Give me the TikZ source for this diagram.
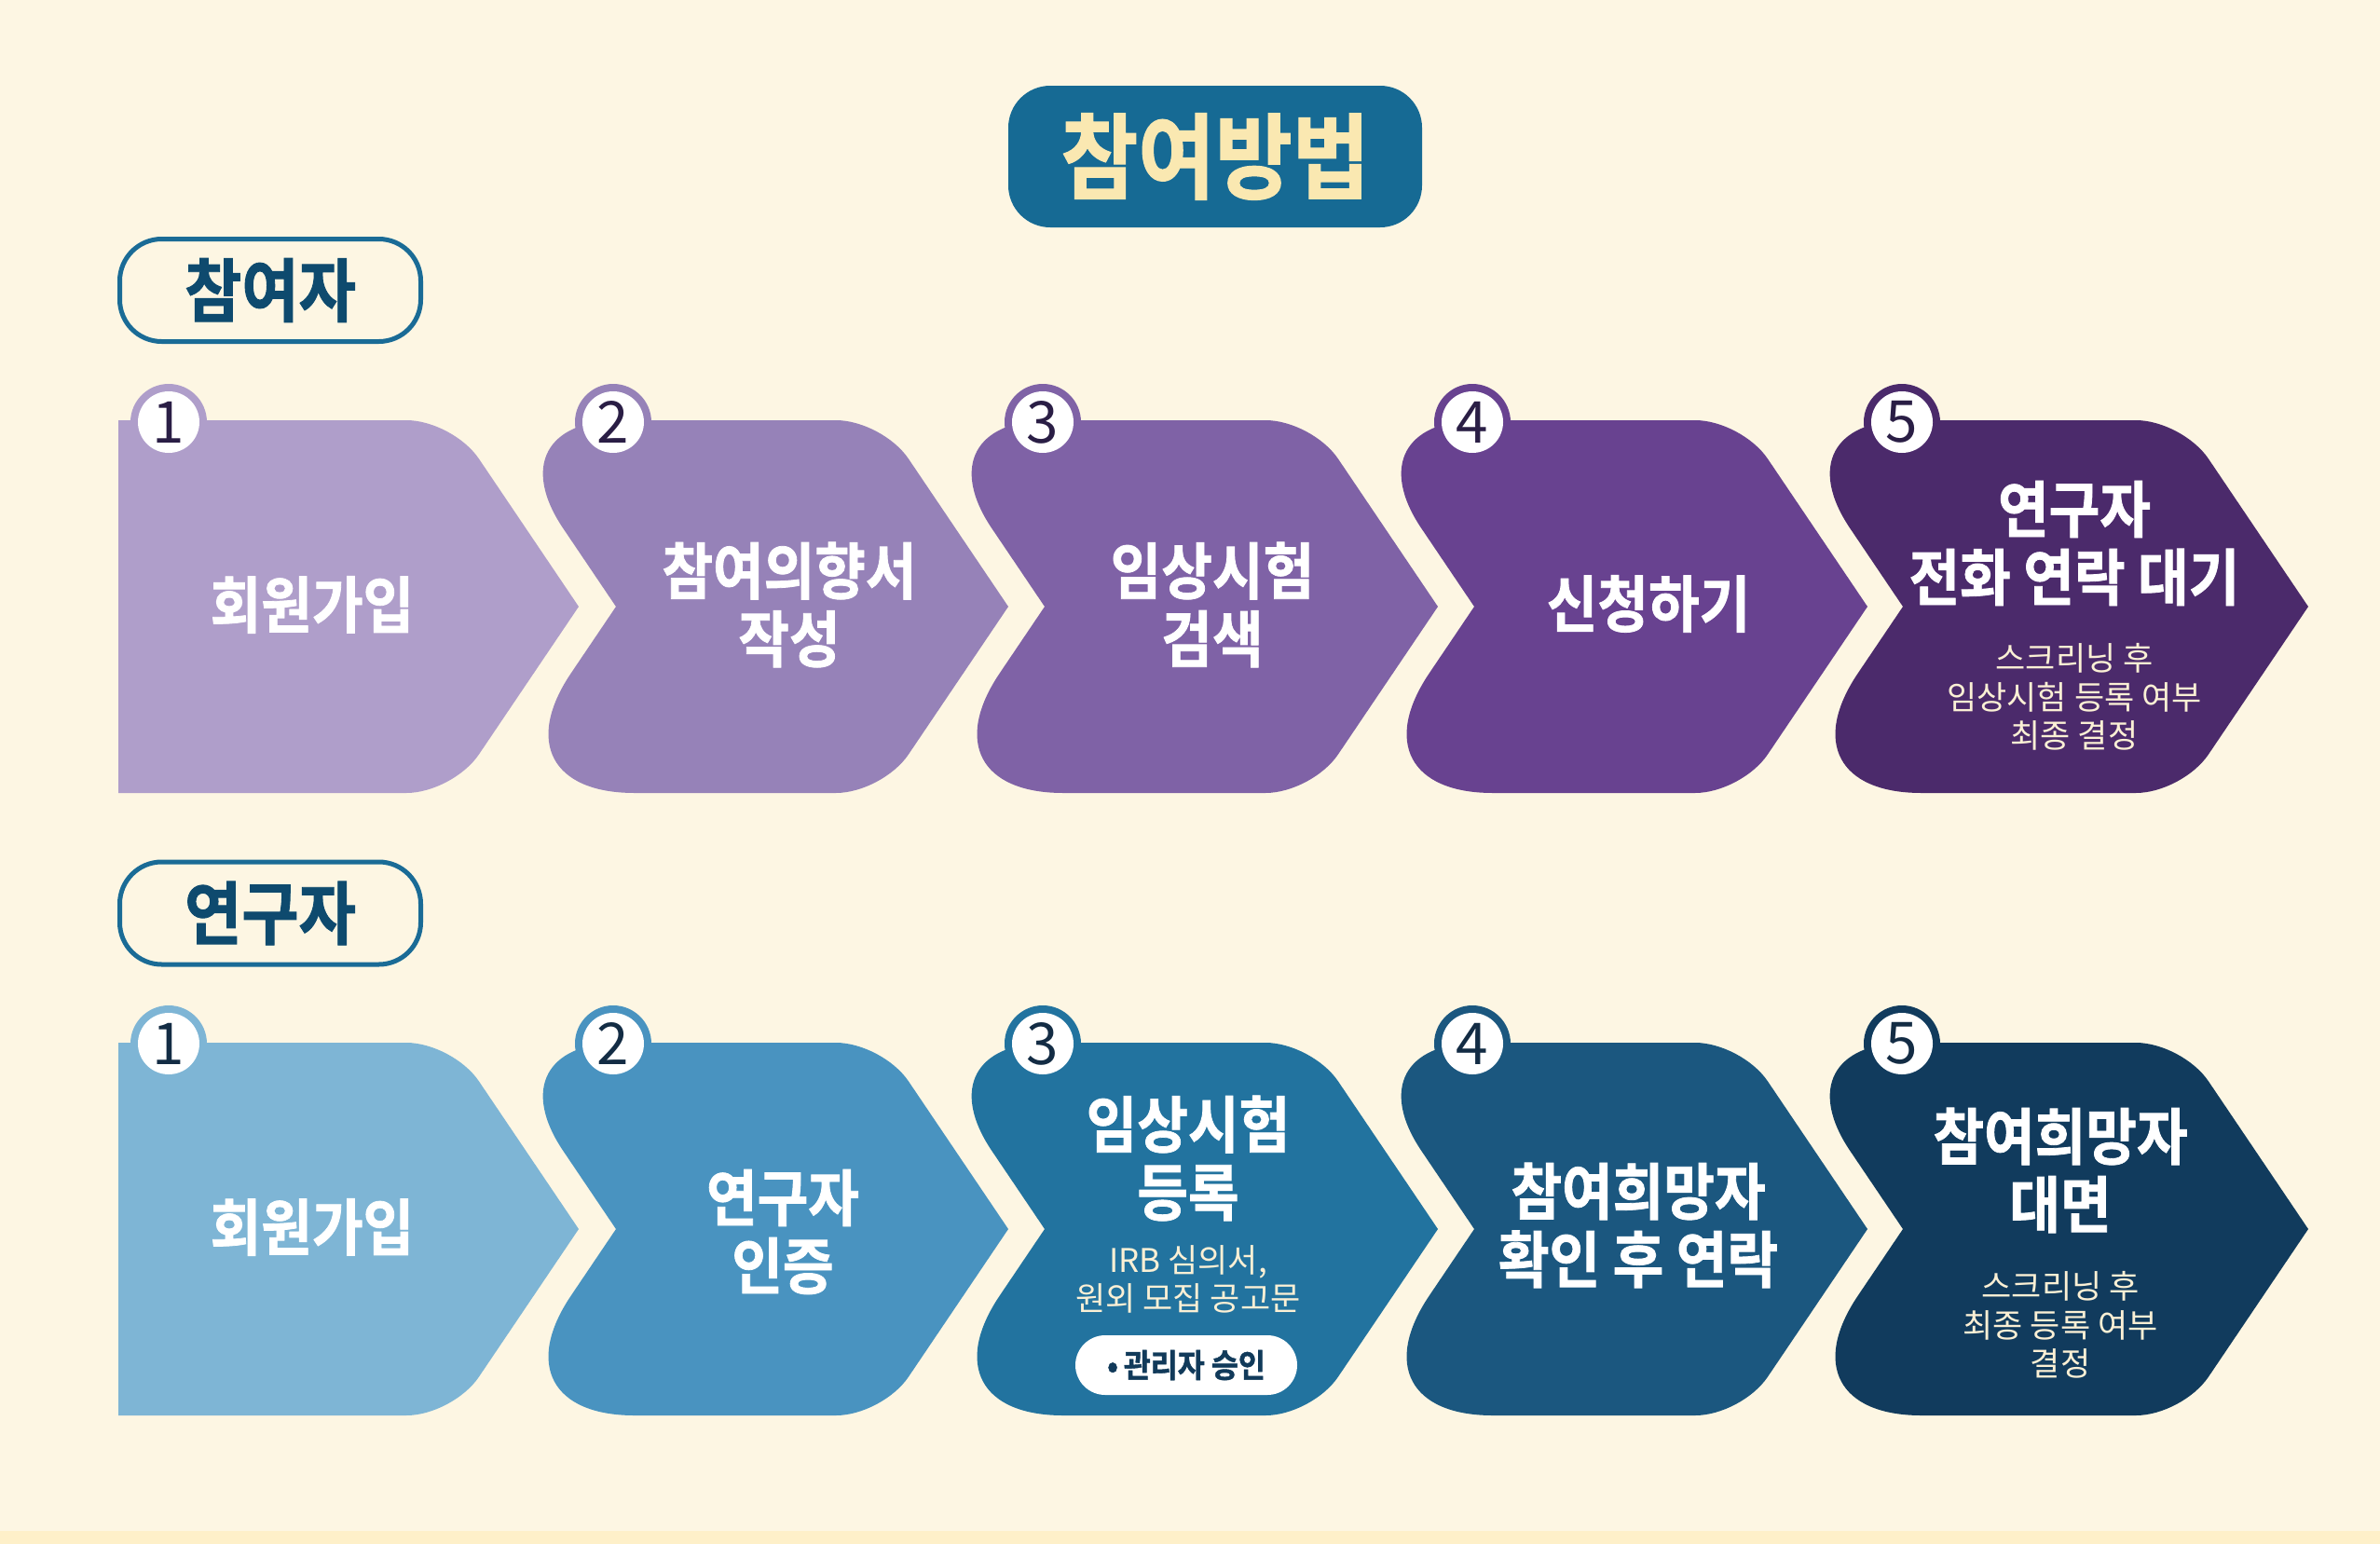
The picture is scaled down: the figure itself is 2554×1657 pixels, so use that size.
\documentclass[tikz,border=0pt]{standalone}
\usepackage{fontspec}
\setmainfont{Noto Sans CJK KR}
\newfontfamily\krh{Noto Sans CJK KR}[UprightFont=* Bold, FakeStretch=0.9, FakeBold=1.2]
\newfontfamily\krn{Noto Sans CJK KR}
\usetikzlibrary{calc}

\definecolor{bg}{HTML}{FDF6E3}
\definecolor{strip}{HTML}{FEF0C9}
\definecolor{titlebox}{HTML}{166A94}
\definecolor{titletext}{HTML}{FAE8B1}
\definecolor{labelline}{HTML}{1A6B96}
\definecolor{labeltext}{HTML}{0E4A6E}
\definecolor{pA}{HTML}{AF9ECA}
\definecolor{pB}{HTML}{9682B8}
\definecolor{pC}{HTML}{7F62A6}
\definecolor{pD}{HTML}{684290}
\definecolor{pE}{HTML}{4B2A6B}
\definecolor{bA}{HTML}{7EB5D5}
\definecolor{bB}{HTML}{4993C0}
\definecolor{bC}{HTML}{22739F}
\definecolor{bD}{HTML}{1B577F}
\definecolor{bE}{HTML}{113B5D}
\definecolor{numP}{HTML}{2A1E45}
\definecolor{numB}{HTML}{132C44}
\definecolor{smalltext}{HTML}{FBF0D5}
\definecolor{pilltext}{HTML}{113A5A}

\newcommand{\headfont}{\krh\fontsize{66}{73}\selectfont}
\newcommand{\subfont}{\krn\fontsize{35}{41.5}\selectfont}

% flat-left chevron: name, colour, left x, tip x, top y
\newcommand{\flatchev}[5]{%
 \coordinate (#1-tl) at (#3,#5);
 \coordinate (#1-tr) at ({#4-135},#5);
 \coordinate (#1-tip) at (#4,{#5+200});
 \coordinate (#1-br) at ({#4-135},{#5+400});
 \coordinate (#1-bl) at (#3,{#5+400});
 \fill[#2] (#1-tl)
  -- ($(#1-tr)!50pt!(#1-tl)$) .. controls ($(#1-tr)!22pt!(#1-tl)$) and ($(#1-tr)!22pt!(#1-tip)$) .. ($(#1-tr)!50pt!(#1-tip)$)
  -- (#1-tip)
  -- ($(#1-br)!50pt!(#1-tip)$) .. controls ($(#1-br)!22pt!(#1-tip)$) and ($(#1-br)!22pt!(#1-bl)$) .. ($(#1-br)!50pt!(#1-bl)$)
  -- (#1-bl) -- cycle;
}
% notched chevron: name, colour, notch x, tip x, top y
\newcommand{\notchchev}[5]{%
 \coordinate (#1-n) at (#3,{#5+200});
 \coordinate (#1-tl) at ({#3-135},#5);
 \coordinate (#1-tr) at ({#4-135},#5);
 \coordinate (#1-tip) at (#4,{#5+200});
 \coordinate (#1-br) at ({#4-135},{#5+400});
 \coordinate (#1-bl) at ({#3-135},{#5+400});
 \fill[#2] (#1-n)
  -- ($(#1-tl)!140pt!(#1-n)$) .. controls ($(#1-tl)!60pt!(#1-n)$) and ($(#1-tl)!60pt!(#1-tr)$) .. ($(#1-tl)!140pt!(#1-tr)$)
  -- ($(#1-tr)!50pt!(#1-tl)$) .. controls ($(#1-tr)!22pt!(#1-tl)$) and ($(#1-tr)!22pt!(#1-tip)$) .. ($(#1-tr)!50pt!(#1-tip)$)
  -- (#1-tip)
  -- ($(#1-br)!50pt!(#1-tip)$) .. controls ($(#1-br)!22pt!(#1-tip)$) and ($(#1-br)!22pt!(#1-bl)$) .. ($(#1-br)!50pt!(#1-bl)$)
  -- ($(#1-bl)!155pt!(#1-br)$) .. controls ($(#1-bl)!66pt!(#1-br)$) and ($(#1-bl)!66pt!(#1-n)$) .. ($(#1-bl)!155pt!(#1-n)$)
  -- cycle;
}
% badge: name, ring colour, digit colour, x, y, digit
\newcommand{\badge}[6]{%
 \fill[#2] (#4,#5) circle (41pt);
 \node[badgecircle, text=#3] (#1) at (#4,#5) {#6};
}

\tikzset{
 badgecircle/.style={circle, fill=white, minimum size=66pt, inner sep=0pt, font=\krn\fontsize{62}{62}\selectfont},
 head/.style={text=white, font=\headfont, align=center, inner sep=0pt},
 sub/.style={text=smalltext, font=\subfont, align=center, inner sep=0pt},
 labelbox/.style={draw=labelline, line width=5pt, rounded corners=45pt, fill=bg, text=labeltext,
   minimum width=323pt, minimum height=110pt, inner sep=0pt, font=\krh\fontsize{74}{74}\selectfont},
}

\begin{document}
\begin{tikzpicture}[x=1pt,y=-1pt]
\fill[bg] (0,0) rectangle (2554,1657);
\fill[strip] (0,1643) rectangle (2554,1657);
\useasboundingbox (0,0) rectangle (2554,1657);

% title
\node[fill=titlebox, rounded corners=45pt, minimum width=444pt, minimum height=152pt, inner sep=0pt,
  text=titletext, font=\krh\fontsize{100}{100}\selectfont] (title) at (1304,168) {참여방법};

% section labels
\node[labelbox] (lab1) at (290,311.5) {참여자};
\node[labelbox] (lab2) at (290,980) {연구자};

% row 1
\flatchev{p1}{pA}{127}{621}{451}
\notchchev{p2}{pB}{661}{1082}{451}
\notchchev{p3}{pC}{1121}{1543}{451}
\notchchev{p4}{pD}{1582}{2004}{451}
\notchchev{p5}{pE}{2042}{2477}{451}
\badge{pb1}{pA}{numP}{181}{453}{1}
\badge{pb2}{pB}{numP}{658}{453}{2}
\badge{pb3}{pC}{numP}{1119}{453}{3}
\badge{pb4}{pD}{numP}{1580}{453}{4}
\badge{pb5}{pE}{numP}{2041}{453}{5}
\node[head] (pt1) at (335,649) {회원가입};
\node[head] (pt2) at (847,649) {참여의향서\\작성};
\node[head] (pt3) at (1301,649) {임상시험\\검색};
\node[head] (pt4) at (1769,648) {신청하기};
\node[head] (pt5) at (2226,583) {연구자\\전화 연락 대기};
\node[sub] (ps5) at (2226,748) {스크리닝 후\\임상시험 등록 여부\\최종 결정};

% row 2
\flatchev{b1}{bA}{127}{621}{1119}
\notchchev{b2}{bB}{661}{1082}{1119}
\notchchev{b3}{bC}{1121}{1543}{1119}
\notchchev{b4}{bD}{1582}{2004}{1119}
\notchchev{b5}{bE}{2042}{2477}{1119}
\badge{bb1}{bA}{numB}{181}{1120}{1}
\badge{bb2}{bB}{numB}{658}{1120}{2}
\badge{bb3}{bC}{numB}{1119}{1120}{3}
\badge{bb4}{bD}{numB}{1580}{1120}{4}
\badge{bb5}{bE}{numB}{2041}{1120}{5}
\node[head] (bt1) at (335,1317) {회원가입};
\node[head] (bt2) at (840,1322) {연구자\\인증};
\node[head] (bt3) at (1275,1243) {임상시험\\등록};
\node[sub] (bs3) at (1275,1373) {IRB 심의서,\\원외 모집 공고문};
\node[fill=white, rounded corners=32pt, minimum width=238pt, minimum height=64pt, inner sep=0pt,
  text=pilltext, font=\krh\fontsize{35}{35}\selectfont] (pill) at (1273,1465) {•\,관리자 승인};
\node[head] (bt4) at (1758,1315) {참여희망자\\확인 후 연락};
\node[head] (bt5) at (2211,1256) {참여희망자\\대면};
\node[sub] (bs5) at (2211,1422) {스크리닝 후\\최종 등록 여부\\결정};
\end{tikzpicture}
\end{document}
